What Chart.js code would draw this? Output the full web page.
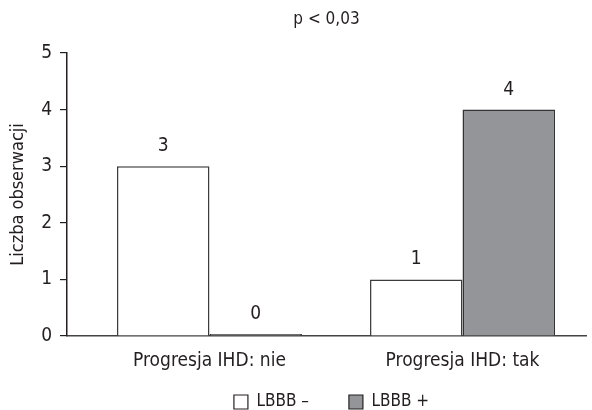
<!DOCTYPE html>
<html>
<head>
<meta charset="utf-8">
<script src="https://cdn.jsdelivr.net/npm/chart.js@4"></script>
<style>
  html, body { margin: 0; padding: 0; background: #fff; }
</style>
</head>
<body>
<canvas id="barChart" width="592" height="410"></canvas>
<script>
// Chart data
const categories = ['Progresja IHD: nie', 'Progresja IHD: tak'];
const seriesNames = ['LBBB \u2013', 'LBBB +'];
const lbbbMinus = [3, 1];
const lbbbPlus = [0, 4];
const yTickValues = [0, 1, 2, 3, 4, 5];
const titleText = 'p < 0,03';

const FONT = "'DejaVu Sans Condensed', 'Liberation Sans Narrow', 'Roboto', sans-serif";
const INK = '#231f20';

// title centered over the plot area, not the whole canvas
const plotTitle = {
  id: 'plotTitle',
  afterLayout(chart) {
    // put the legend under the plot area; grow its box upward so the
    // item row (top + padding) sits near the bottom edge
    const lg = chart.legend;
    const ca = chart.chartArea;
    lg.left = ca.left + 10;
    lg.right = ca.right;
    lg.width = lg.right - lg.left;
    lg.top -= 26.5;
    lg.height = lg.bottom - lg.top;
  },
  afterDraw(chart) {
    const { ctx, chartArea } = chart;
    ctx.save();
    ctx.font = '17px ' + FONT;
    ctx.fillStyle = INK;
    ctx.textAlign = 'center';
    ctx.textBaseline = 'middle';
    ctx.fillText(titleText, (chartArea.left + chartArea.right) / 2, 20);
    ctx.restore();
  }
};

// numbers above each bar
const valueLabels = {
  id: 'valueLabels',
  afterDatasetsDraw(chart) {
    const { ctx } = chart;
    ctx.save();
    ctx.font = '19px ' + FONT;
    ctx.fillStyle = INK;
    ctx.textAlign = 'center';
    ctx.textBaseline = 'middle';
    chart.data.datasets.forEach((ds, i) => {
      chart.getDatasetMeta(i).data.forEach((bar, j) => {
        ctx.fillText(String(ds.data[j].y), bar.x, bar.y - 20);
      });
    });
    ctx.restore();
  }
};

const ctx = document.getElementById('barChart').getContext('2d');
new Chart(ctx, {
  type: 'bar',
  data: {
    datasets: [{
      label: seriesNames[0],
      data: lbbbMinus.map((v, i) => ({ x: i, y: v })),
      backgroundColor: '#ffffff',
      borderColor: '#3c3c3c',
      borderWidth: 1.5,
      borderSkipped: 'bottom'
    }, {
      label: seriesNames[1],
      data: lbbbPlus.map((v, i) => ({ x: i, y: v })),
      backgroundColor: '#939598',
      borderColor: '#333333',
      borderWidth: 1.5,
      borderSkipped: 'bottom',
      minBarLength: 2
    }]
  },
  plugins: [plotTitle, valueLabels],
  options: {
    responsive: false,
    animation: false,
    devicePixelRatio: 1,
    categoryPercentage: 0.731,
    barPercentage: 1.0,
    layout: { padding: { top: 53, right: 6, left: 0, bottom: 0 } },
    plugins: {
      title: { display: false },
      tooltip: { enabled: false },
      legend: {
        position: 'bottom',
        maxHeight: 30,
        labels: {
          color: INK,
          boxWidth: 14,
          boxHeight: 14,
          padding: 40,
          font: { family: FONT, size: 17 },
          generateLabels(chart) {
            return chart.data.datasets.map((ds, i) => ({
              text: ds.label,
              fillStyle: ds.backgroundColor,
              strokeStyle: INK,
              lineWidth: 1.2,
              datasetIndex: i,
              fontColor: INK
            }));
          }
        }
      }
    },
    scales: {
      x: {
        type: 'linear',
        offset: false,
        min: -0.563,
        max: 1.488,
        grid: { display: false },
        border: { display: true, color: '#444444', width: 1.5 },
        afterBuildTicks(scale) {
          scale.ticks = categories.map((c, i) => ({ value: i }));
        },
        afterFit(scale) { scale.height = 44; },
        ticks: {
          color: INK,
          padding: 6,
          maxRotation: 0,
          autoSkip: false,
          font: { family: FONT, size: 19 },
          callback: (v) => categories[v]
        }
      },
      y: {
        min: 0,
        max: 5,
        afterBuildTicks(scale) {
          scale.ticks = yTickValues.map(v => ({ value: v }));
        },
        afterFit(scale) { scale.width = 67; },
        grid: { display: true, drawOnChartArea: false, drawTicks: true, tickLength: 7, color: INK, lineWidth: 1.2 },
        border: { display: true, color: INK, width: 1.5 },
        ticks: {
          color: INK,
          padding: 8,
          font: { family: FONT, size: 19 }
        },
        title: {
          display: true,
          text: 'Liczba obserwacji',
          color: INK,
          padding: { top: 8, bottom: 0 },
          font: { family: FONT, size: 18 }
        }
      }
    }
  }
});
</script>
</body>
</html>
